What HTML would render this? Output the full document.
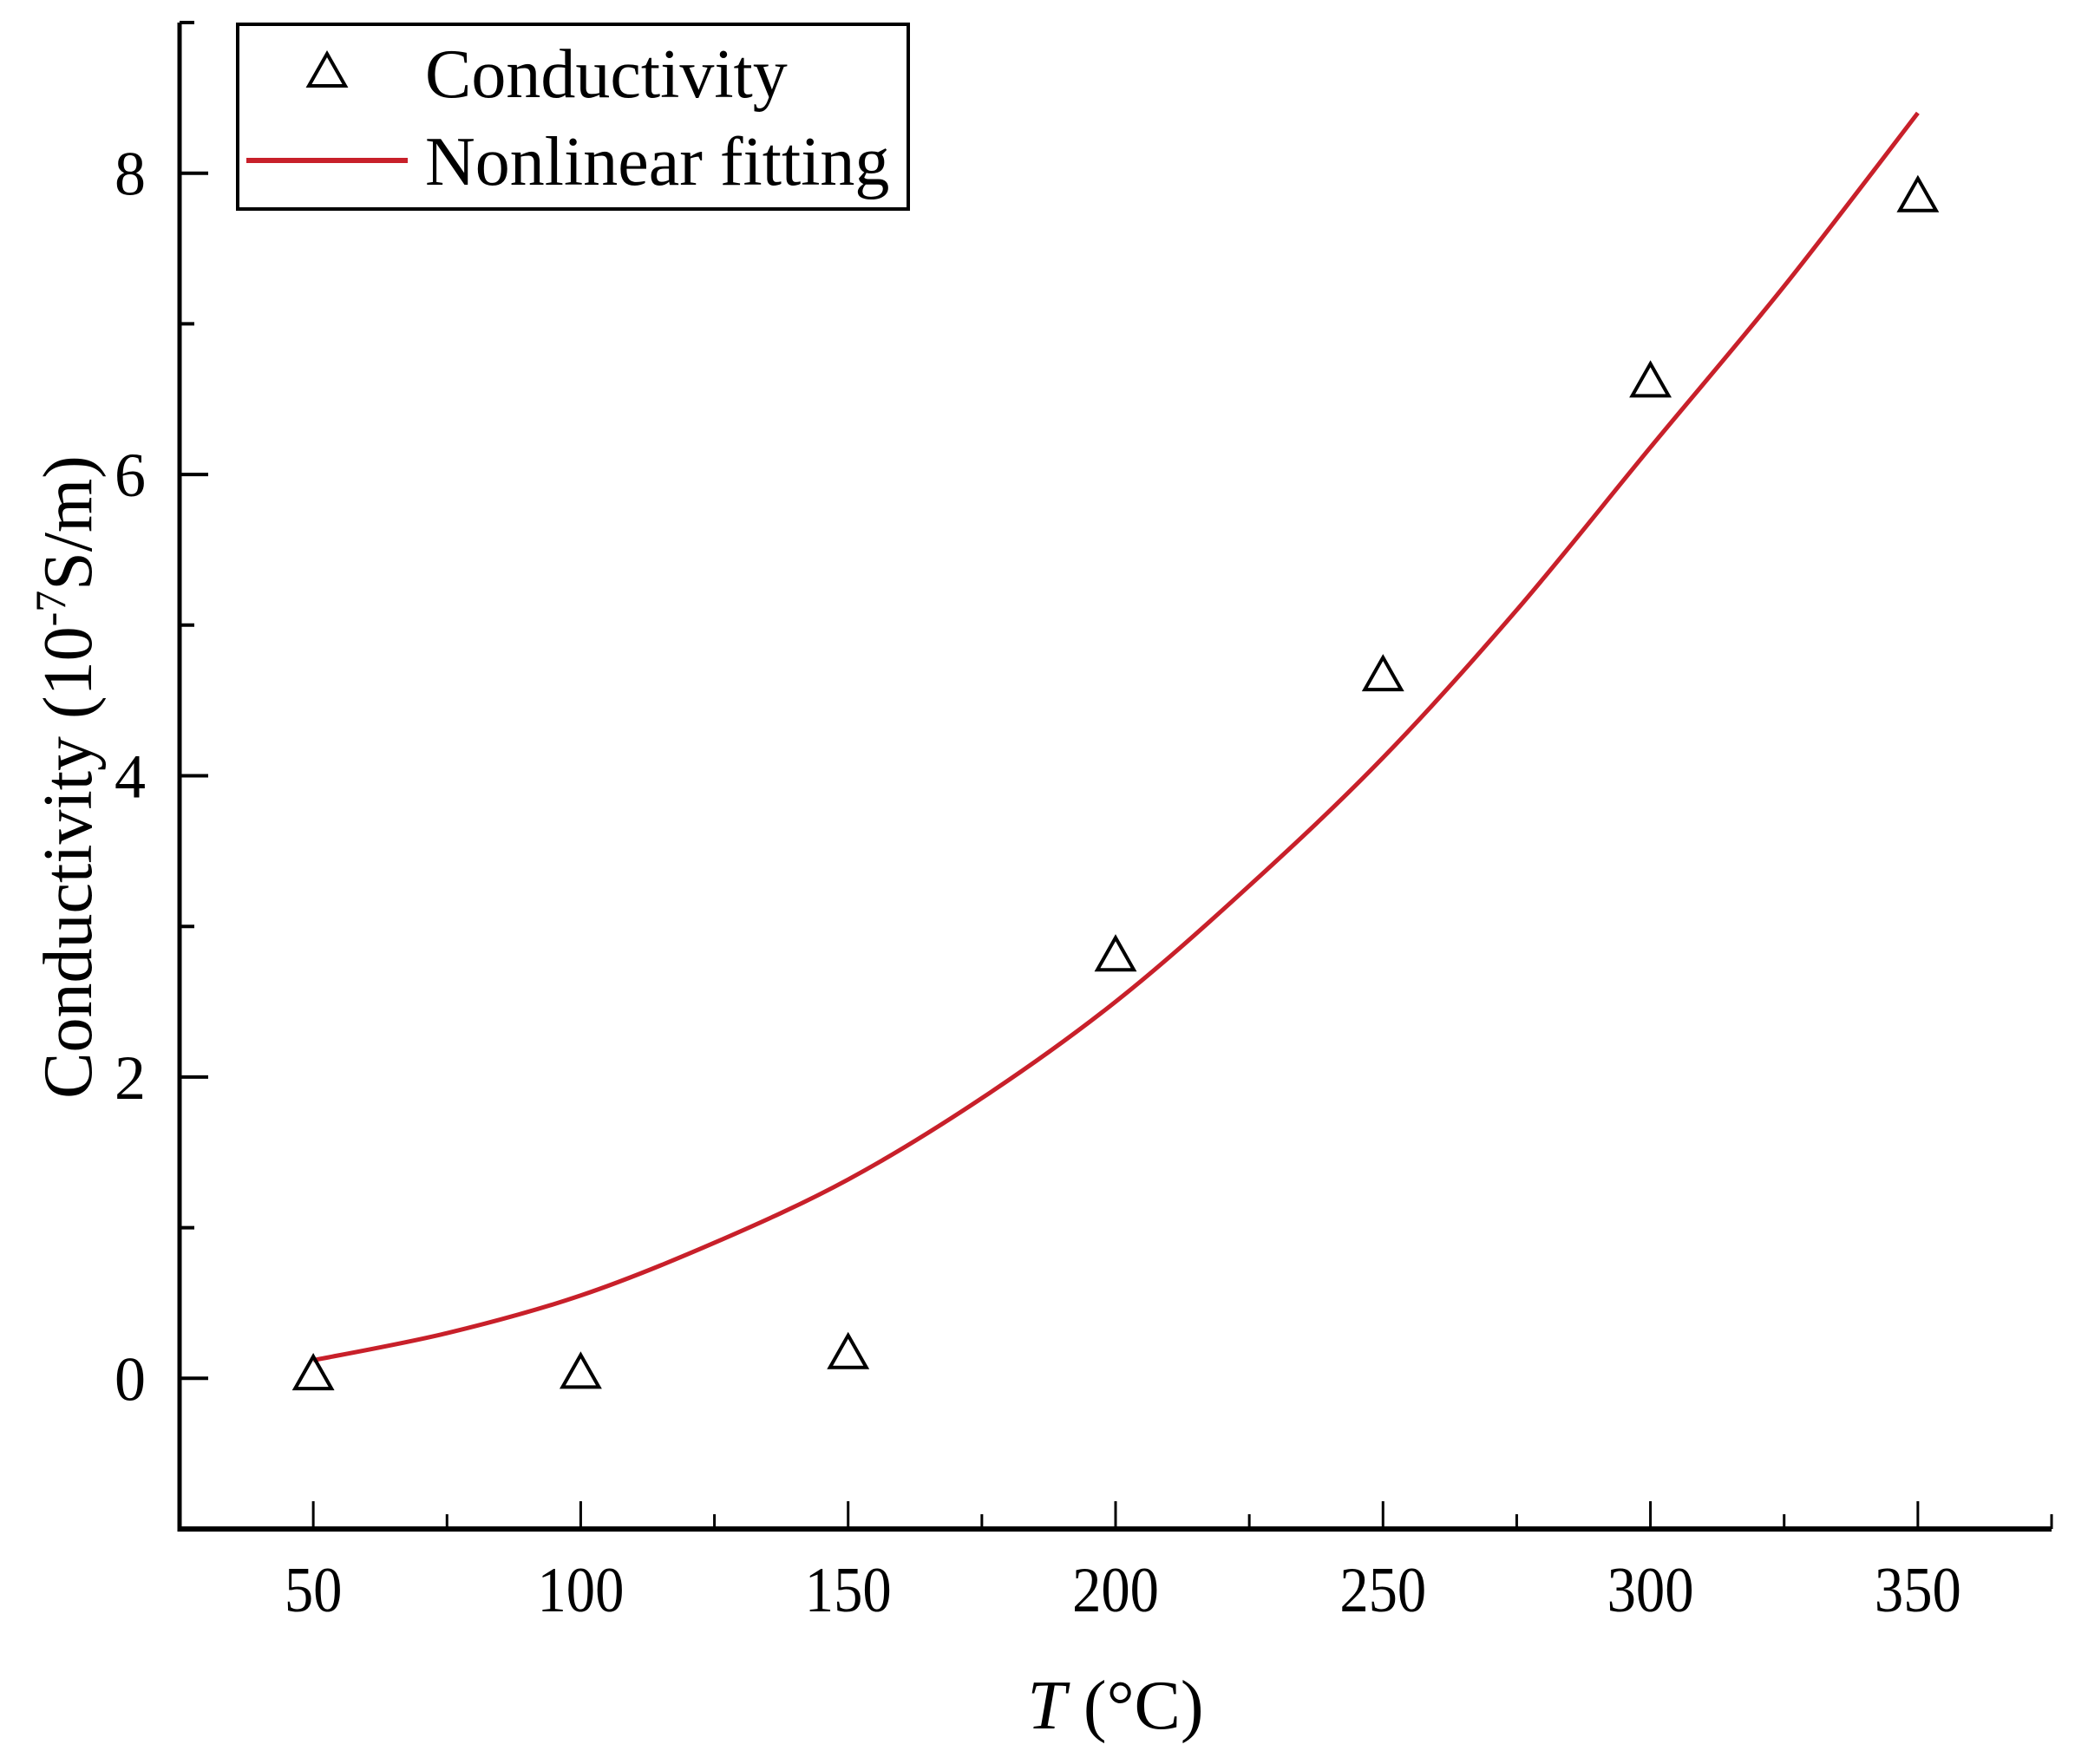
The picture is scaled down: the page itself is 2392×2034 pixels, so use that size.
<!DOCTYPE html>
<html><head><meta charset="utf-8"><style>
html,body{margin:0;padding:0;background:#fff;}
svg{display:block;font-family:"Liberation Serif",serif;}
</style></head><body>
<svg id="chart" width="2392" height="2034" viewBox="0 0 2392 2034" xmlns="http://www.w3.org/2000/svg">
<g id="plot"></g>
</svg>
<script>
const xTicks = [50, 100, 150, 200, 250, 300, 350];
const yTicks = [0, 2, 4, 6, 8];
const measT = [50, 100, 150, 200, 250, 300, 350];
const measC = [0.03, 0.04, 0.17, 2.81, 4.67, 6.62, 7.85];
const fitT = [50, 75, 100, 125, 150, 175, 200, 225, 250, 275, 300, 325, 350];
const fitC = [0.12, 0.3, 0.55, 0.9, 1.32, 1.86, 2.5, 3.27, 4.12, 5.1, 6.18, 7.25, 8.4];

const NS = 'http://www.w3.org/2000/svg';
const g = document.getElementById('plot');
const L = 207, R = 2365, T = 26, B = 1763;
const xmin = 25, xmax = 375, ymin = -1, ymax = 9;
const sx = v => L + (v - xmin) / (xmax - xmin) * (R - L);
const sy = v => B - (v - ymin) / (ymax - ymin) * (B - T);
function el(tag, attrs, text) {
  const e = document.createElementNS(NS, tag);
  for (const k in attrs) e.setAttribute(k, attrs[k]);
  if (text !== undefined) e.textContent = text;
  g.appendChild(e);
  return e;
}
const pts = fitT.map((t, i) => [sx(t), sy(fitC[i])]);
let d = `M${pts[0][0]},${pts[0][1]}`;
for (let i = 0; i < pts.length - 1; i++) {
  const p0 = pts[Math.max(0, i - 1)], p1 = pts[i], p2 = pts[i + 1], p3 = pts[Math.min(pts.length - 1, i + 2)];
  const c1 = [p1[0] + (p2[0] - p0[0]) / 6, p1[1] + (p2[1] - p0[1]) / 6];
  const c2 = [p2[0] - (p3[0] - p1[0]) / 6, p2[1] - (p3[1] - p1[1]) / 6];
  d += ` C${c1[0]},${c1[1]} ${c2[0]},${c2[1]} ${p2[0]},${p2[1]}`;
}
const fit = el('path', {d: d, fill: 'none', stroke: '#c8202a', 'stroke-width': 5});


measT.forEach((t, i) => {
  const cx = sx(t), cy = sy(measC[i]);
  const m = el('path', {d: `M${cx},${cy - 20} L${cx + 21},${cy + 17} L${cx - 21},${cy + 17} Z`, fill: 'none', stroke: '#000', 'stroke-width': 4});
  
  
});
const ax = el('line', {x1: L - 2, y1: B, x2: R, y2: B, stroke: '#000', 'stroke-width': 6});


const ay = el('line', {x1: L, y1: T, x2: L, y2: B + 3, stroke: '#000', 'stroke-width': 5});


for (let v = 25; v <= 375; v += 25) {
  const major = xTicks.includes(v);
  const t = el('line', {x1: sx(v), y1: B, x2: sx(v), y2: B - (major ? 32 : 17), stroke: '#000', 'stroke-width': 3});
  
  
}
xTicks.forEach(v => {
  const t = el('text', {x: 0, y: 0, 'font-size': 74, 'text-anchor': 'middle', transform: `translate(${sx(v)},1858) scale(0.9,1)`}, String(v));
  
  
});
for (let v = -1; v <= 9; v += 1) {
  const major = yTicks.includes(v);
  const t = el('line', {x1: L, y1: sy(v), x2: L + (major ? 33 : 17), y2: sy(v), stroke: '#000', 'stroke-width': 4});
  
  
}
yTicks.forEach(v => {
  const t = el('text', {x: 168, y: sy(v) + 25, 'font-size': 72, 'text-anchor': 'end'}, String(v));
  
  
});
const xt = el('text', {x: 1286, y: 1993, 'font-size': 80, 'text-anchor': 'middle'});


xt.innerHTML = '<tspan font-style="italic">T</tspan> (°C)';
const yt = el('text', {x: 0, y: 0, 'font-size': 80, 'text-anchor': 'middle', transform: 'translate(105,896) rotate(-90)'});


yt.innerHTML = 'Conductivity (10<tspan font-size="50" dy="-30">-7</tspan><tspan dy="30">S/m)</tspan>';
const lb = el('rect', {x: 274, y: 28, width: 773, height: 213, fill: '#fff', stroke: '#000', 'stroke-width': 4});


const lm = el('path', {d: 'M377,62 L398,99 L356,99 Z', fill: 'none', stroke: '#000', 'stroke-width': 4});


const l1 = el('text', {x: 490, y: 112, 'font-size': 80}, 'Conductivity');


const ll = el('line', {x1: 284, y1: 185, x2: 470, y2: 185, stroke: '#c8202a', 'stroke-width': 6});


const l2 = el('text', {x: 490, y: 213, 'font-size': 80}, 'Nonlinear fitting');


</script>
</body></html>
